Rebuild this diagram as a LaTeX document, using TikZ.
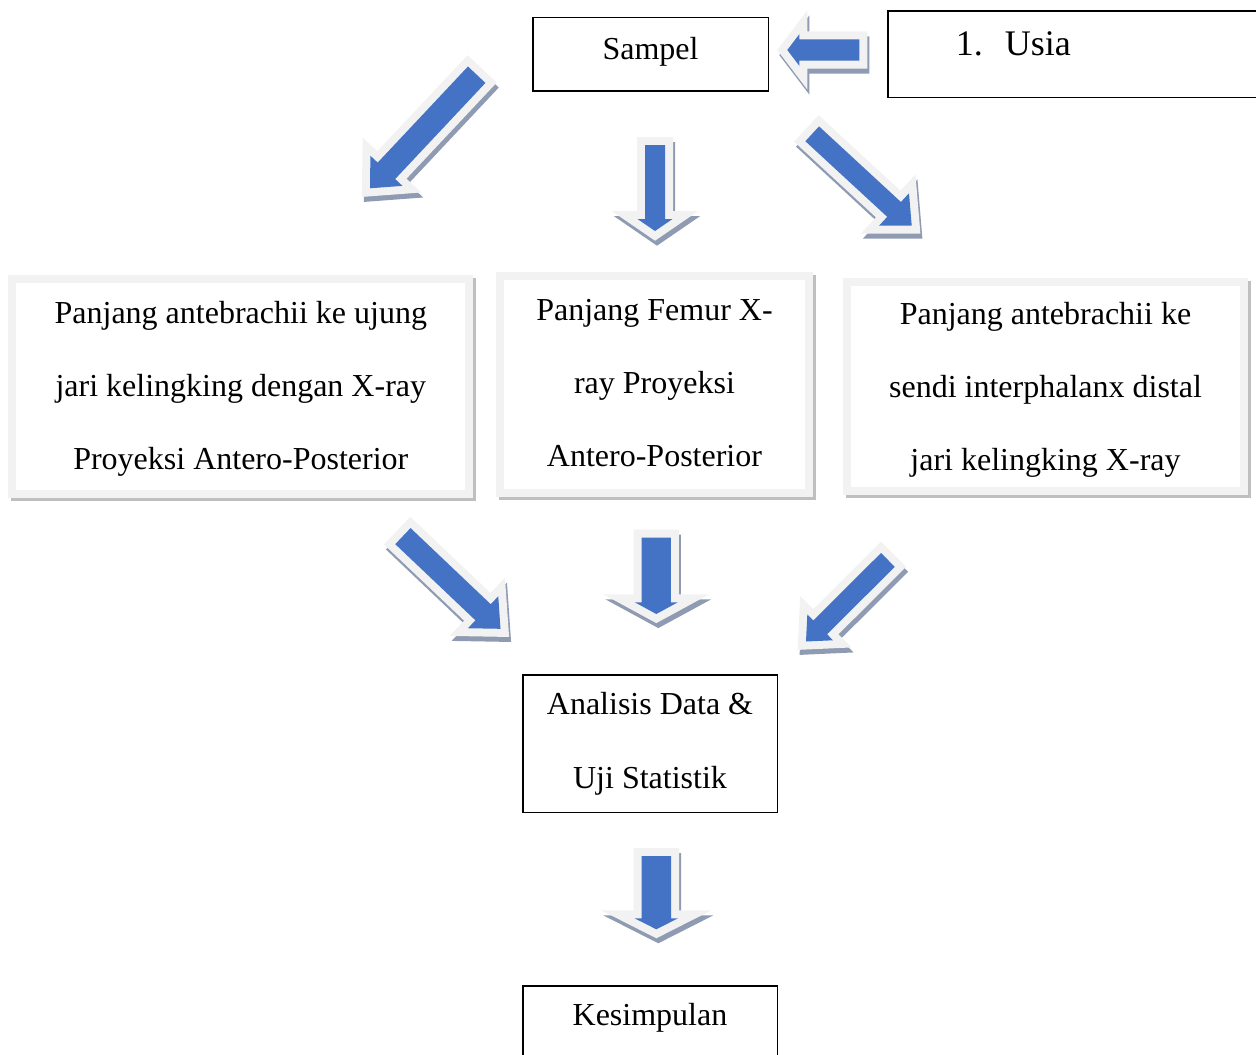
\documentclass[tikz,border=0pt]{standalone}
\usepackage{fontspec}
\setmainfont{Liberation Serif}
\usepackage{tikz}
\usetikzlibrary{positioning,calc}
\definecolor{arrowblue}{HTML}{4472C4}
\definecolor{rimgray}{HTML}{F2F2F2}
\definecolor{arrowshade}{HTML}{8F9BB2}
\definecolor{boxshade}{HTML}{BFBFBF}
\tikzstyle{plain}=[draw=black, line width=1.6pt, inner sep=0, align=center]
\tikzstyle{panel}=[draw=rimgray, line width=8pt, fill=white, inner sep=0, align=center,
  preaction={draw=boxshade, fill=boxshade, transform canvas={shift={(3pt,-3pt)}}}]
\tikzstyle{arrowshadow}=[draw=arrowshade, fill=arrowshade, line width=16pt, line join=miter,
  transform canvas={shift={(2pt,-5pt)}}]
\tikzstyle{arrowrim}=[draw=rimgray, line width=16pt, line join=miter]
\tikzstyle{arrowbody}=[fill=arrowblue]
\newcommand{\drawbox}{\node[plain]}
\newcommand{\drawpanel}{\node[panel]}
% #1 tail, #2 tip, #3 shaft half width, #4 head half width, #5 head length
\newcommand{\blockarrow}[5]{%
  \coordinate (hb) at ($(#2)!#5pt!(#1)$);
  \coordinate (tl) at ($(#1)!#3pt!90:(#2)$);
  \coordinate (tr) at ($(#1)!#3pt!-90:(#2)$);
  \coordinate (sl) at ($(hb)!#3pt!90:(#2)$);
  \coordinate (sr) at ($(hb)!#3pt!-90:(#2)$);
  \coordinate (hl) at ($(hb)!#4pt!90:(#2)$);
  \coordinate (hr) at ($(hb)!#4pt!-90:(#2)$);
  \path[arrowshadow] (tl) -- (sl) -- (hl) -- (#2) -- (hr) -- (sr) -- (tr) -- cycle;
  \path[arrowrim] (tl) -- (sl) -- (hl) -- (#2) -- (hr) -- (sr) -- (tr) -- cycle;
  \path[arrowbody] (tl) -- (sl) -- (hl) -- (#2) -- (hr) -- (sr) -- (tr) -- cycle;
}

\begin{document}
\begin{tikzpicture}[x=1pt,y=-1pt, every node/.style={font=\fontsize{32}{73}\selectfont}]
	\useasboundingbox (0,0) rectangle (1256,1055);
	\clip (0,0) rectangle (1256,1055);
	
	\drawbox[anchor=north, minimum width=235.6pt, text height=41.6pt, text depth=31.7pt] (sampel) at (650.5,16.7) {Sampel};
	\drawbox[anchor=north west, text width=400pt, align=left, inner xsep=68pt, text height=45pt, text depth=41.7pt,
		font=\fontsize{36}{40}\selectfont] (usia) at (887,10) {\makebox[49pt][l]{1.}Usia};
	
	\drawpanel[minimum width=457pt, minimum height=215pt] (ujung) at (240.8,386.5)
		{\rule{0pt}{26pt}Panjang antebrachii ke ujung\\jari kelingking dengan X-ray\\Proyeksi Antero-Posterior};
	\drawpanel[minimum width=309pt, minimum height=217.3pt] (femur) at (654.5,384.3)
		{Panjang Femur X-\\ray Proyeksi\\Antero-Posterior\rule[-3pt]{0pt}{3pt}};
	\drawpanel[minimum width=397.6pt, minimum height=209.3pt] (distal) at (1045.5,386.3)
		{\rule{0pt}{30pt}Panjang antebrachii ke\\sendi interphalanx distal\\jari kelingking X-ray};
	
	\drawbox[minimum width=254.6pt, minimum height=137.7pt, font=\fontsize{32}{74}\selectfont] (analisis) at (650,743.8)
		{Analisis Data \&\\Uji Statistik};
	\drawbox[anchor=north, minimum width=254.6pt, text height=40pt, text depth=100pt] (kesimpulan) at (650,985) {Kesimpulan};
	
	\coordinate (a0s) at (859.3,50);   \coordinate (a0e) at (787.3,50);
	\coordinate (a1s) at (476.7,74.7); \coordinate (a1e) at (370,188.3);
	\coordinate (a2s) at (655,145);    \coordinate (a2e) at (655,231);
	\coordinate (a3s) at (812.2,133.8); \coordinate (a3e) at (911.7,225.7);
	\coordinate (a4s) at (402.9,536.1); \coordinate (a4e) at (500.5,628.8);
	\coordinate (a5s) at (656.3,537.5); \coordinate (a5e) at (656.3,614);
	\coordinate (a6s) at (887.9,559.9); \coordinate (a6e) at (806,641.5);
	\coordinate (a7s) at (656.3,856);   \coordinate (a7e) at (656.3,929.3);
	
	\blockarrow{a0s}{a0e}{10.7}{15.8}{12}
	\blockarrow{a1s}{a1e}{12}{22}{24}
	\blockarrow{a2s}{a2e}{10}{17.5}{12}
	\blockarrow{a3s}{a3e}{10.1}{22}{24}
	\blockarrow{a4s}{a4e}{11.1}{22}{24}
	\blockarrow{a5s}{a5e}{14.6}{21.5}{11.7}
	\blockarrow{a6s}{a6e}{9.75}{18.2}{20}
	\blockarrow{a7s}{a7e}{14.7}{21.7}{11}
	
\end{tikzpicture}
\end{document}
